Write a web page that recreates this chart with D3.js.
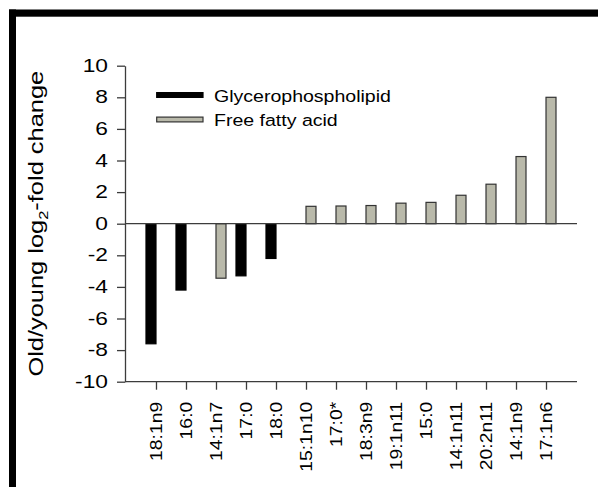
<!DOCTYPE html>
<html>
<head>
<meta charset="utf-8">
<script src="https://cdn.jsdelivr.net/npm/d3@7"></script>
<style>
  html, body { margin: 0; padding: 0; background: #fff; }
  svg { display: block; font-family: "Liberation Sans", Arial, sans-serif; }
</style>
</head>
<body>
<svg id="chart" width="598" height="487"></svg>
<script>
// Lipid species, ordered as plotted
const categories = ["18:1n9", "16:0", "14:1n7", "17:0", "18:0", "15:1n10", "17:0*",
  "18:3n9", "19:1n11", "15:0", "14:1n11", "20:2n11", "14:1n9", "17:1n6"];
// Lipid class of each species
const classes = ["Glycerophospholipid", "Glycerophospholipid", "Free fatty acid",
  "Glycerophospholipid", "Glycerophospholipid", "Free fatty acid", "Free fatty acid",
  "Free fatty acid", "Free fatty acid", "Free fatty acid", "Free fatty acid",
  "Free fatty acid", "Free fatty acid", "Free fatty acid"];
// Old/young log2 fold change
const values = [-7.6, -4.2, -3.45, -3.3, -2.2, 1.1, 1.12, 1.15, 1.3, 1.35, 1.8, 2.5, 4.25, 8.0];
const classNames = ["Glycerophospholipid", "Free fatty acid"];
const yTicks = [-10, -8, -6, -4, -2, 0, 2, 4, 6, 8, 10];

const colors = { "Glycerophospholipid": "#000000", "Free fatty acid": "#b9b9aa" };
const strokes = { "Glycerophospholipid": "#000000", "Free fatty acid": "#333333" };

const svg = d3.select("#chart");
const plotLeft = 125, plotRight = 577, plotTop = 65.7, plotBottom = 381.7;
const axisColor = "#3c3c3c";

// frame bars along the top and the left edge
svg.append("rect").attr("x", 9).attr("y", 9.5).attr("width", 589).attr("height", 7.2).attr("fill", "#000");
svg.append("rect").attr("x", 9).attr("y", 9.5).attr("width", 7).attr("height", 478).attr("fill", "#000");

const x = d3.scalePoint().domain(categories).range([plotLeft, plotRight]).padding(1.033);
const sub = d3.scaleBand().domain(classNames).range([-10, 10]);
const y = d3.scaleLinear().domain([-10, 10]).range([plotBottom, plotTop]);

const data = categories.map((c, i) => ({ cat: c, cls: classes[i], v: values[i] }));

// bars
svg.append("g").selectAll("rect").data(data).join("rect")
  .attr("x", d => x(d.cat) + sub(d.cls))
  .attr("width", sub.bandwidth())
  .attr("y", d => y(Math.max(0, d.v)))
  .attr("height", d => Math.abs(y(d.v) - y(0)))
  .attr("fill", d => colors[d.cls])
  .attr("stroke", d => strokes[d.cls])
  .attr("stroke-width", 1.2);

// zero line
svg.append("line").attr("x1", plotLeft).attr("x2", plotRight)
  .attr("y1", y(0)).attr("y2", y(0))
  .attr("stroke", axisColor).attr("stroke-width", 1.3);

// y axis
const yAxis = svg.append("g").attr("transform", `translate(${plotLeft},0)`)
  .call(d3.axisLeft(y).tickValues(yTicks).tickSize(8).tickSizeOuter(0).tickFormat(d3.format("d")));
yAxis.select(".domain").attr("stroke", axisColor).attr("stroke-width", 1.3);
yAxis.selectAll(".tick line").attr("stroke", axisColor).attr("stroke-width", 1.3);
yAxis.selectAll(".tick text")
  .attr("x", null)
  .attr("transform", "translate(-17,0) scale(1.3,1)")
  .attr("fill", "#000")
  .style("font-size", "17.5px")
  .style("font-family", "'Liberation Sans', Arial, sans-serif")
  .text(d => d < 0 ? "-" + Math.abs(d) : d);

// x axis
const xAxis = svg.append("g").attr("transform", `translate(0,${plotBottom})`)
  .call(d3.axisBottom(x).tickSize(8).tickSizeOuter(0).tickFormat(""));
xAxis.select(".domain").attr("stroke", axisColor).attr("stroke-width", 1.3)
  .attr("d", `M${plotLeft},0H${plotRight}`);
xAxis.selectAll(".tick line").attr("stroke", axisColor).attr("stroke-width", 1.3);
xAxis.selectAll(".tick text").remove();

// rotated category labels
svg.append("g").selectAll("text").data(categories).join("text")
  .attr("transform", d => `translate(${x(d) + 6},401.7) rotate(-90) scale(1.14,1)`)
  .attr("text-anchor", "end")
  .style("font-size", "17px")
  .attr("fill", "#000")
  .text(d => d);

// y axis title
const title = svg.append("text")
  .attr("transform", `translate(43,${(plotTop + plotBottom) / 2}) rotate(-90) scale(1.27,1)`)
  .attr("text-anchor", "middle")
  .style("font-size", "20px")
  .attr("fill", "#000");
title.append("tspan").text("Old/young log");
title.append("tspan").attr("dy", 5).style("font-size", "13px").text("2");
title.append("tspan").attr("dy", -5).text("-fold change");

// legend
const legend = svg.append("g");
classNames.forEach((name, i) => {
  const g = legend.append("g").attr("transform", `translate(156.7,${95 + i * 24.5})`);
  g.append("rect").attr("x", 0).attr("y", -2.4).attr("width", 46.3).attr("height", 4.8)
    .attr("fill", colors[name]).attr("stroke", strokes[name]).attr("stroke-width", 1.2);
  g.append("text").attr("transform", "translate(57.3,6.5) scale(1.15,1)")
    .style("font-size", "17px").attr("fill", "#000").text(name);
});
</script>
</body>
</html>
